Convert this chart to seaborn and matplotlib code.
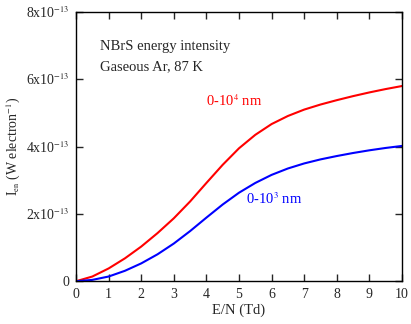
import numpy as np
import pandas as pd
import matplotlib
matplotlib.use("Agg")
import matplotlib.pyplot as plt
import matplotlib._mathtext as mathtext_mod
import seaborn as sns

# Values (x in Td, y in 1e-13 W/electron)
en_td = [0, 0.5, 1, 1.5, 2, 2.5, 3, 3.5, 4, 4.5, 5, 5.5, 6, 6.5, 7, 7.5, 8, 8.5, 9, 9.5, 10]
i_10k = [0, 0.14, 0.38, 0.68, 1.03, 1.43, 1.87, 2.37, 2.92, 3.46, 3.95, 4.35, 4.67, 4.91, 5.10, 5.25, 5.38, 5.50, 5.61, 5.71, 5.80]
i_1k = [0, 0.04, 0.14, 0.31, 0.53, 0.80, 1.12, 1.49, 1.89, 2.28, 2.63, 2.92, 3.16, 3.35, 3.50, 3.62, 3.72, 3.81, 3.89, 3.96, 4.02]
series_names = ["0-10$^4$ nm", "0-10$^3$ nm"]
series_colors = ["#ff0000", "#0000ff"]

df = pd.DataFrame({
    "E/N": en_td * 2,
    "I": [v * 1e-13 for v in i_10k + i_1k],
    "range": [series_names[0]] * len(en_td) + [series_names[1]] * len(en_td),
})

sns.set_style("ticks")
plt.rcParams["font.family"] = ["Liberation Serif", "DejaVu Serif"]
plt.rcParams["mathtext.fontset"] = "stix"
# smaller super/subscripts, closer to the original
mathtext_mod.SHRINK_FACTOR = 0.6

fig = plt.figure(figsize=(4.11, 3.24), dpi=100)
ax = fig.add_axes([0.185, 0.132, 0.793, 0.831])

sns.lineplot(data=df, x="E/N", y="I", hue="range", palette=series_colors,
             linewidth=1.5, legend=False, ax=ax)
for ln in ax.get_lines():
    ln.set_solid_joinstyle("round")

ax.set_xlim(0, 10)
ax.set_ylim(0, 8e-13)
ax.set_xticks(range(0, 11))
ax.set_xticklabels([str(i) for i in range(0, 11)])
yt = [0, 2e-13, 4e-13, 6e-13, 8e-13]
ax.set_yticks(yt)
ax.set_yticklabels(["0"] + [r"%dx10$^{-13}$" % k for k in (2, 4, 6, 8)])
ax.tick_params(direction="in", top=True, right=True, length=5, width=1,
               labelsize=10, pad=5)
for s in ax.spines.values():
    s.set_linewidth(1)
    s.set_color("black")

ax.set_xlabel("E/N (Td)", fontsize=10.5, labelpad=2)
ax.set_ylabel(r"I$_{\rm en}$ (W electron$^{-1}$)", fontsize=10)
ax.yaxis.set_label_coords(-0.165, 0.5)

ax.text(0.075, 0.895, "NBrS energy intensity\nGaseous Ar, 87 K", transform=ax.transAxes,
        fontsize=10.5, va="top", linespacing=1.65)
ax.text(4.0, 5.2e-13, series_names[0], color=series_colors[0], fontsize=10.5)
ax.text(5.2, 2.3e-13, series_names[1], color=series_colors[1], fontsize=10.5)

fig.savefig("out.png", dpi=100)
